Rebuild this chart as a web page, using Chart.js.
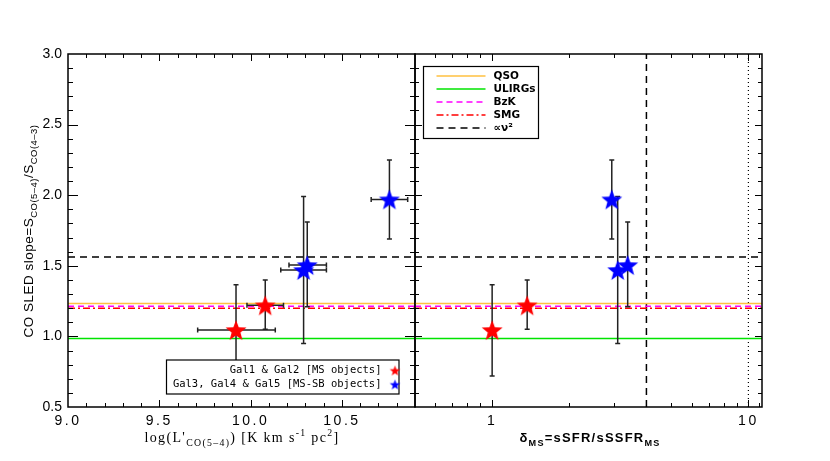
<!DOCTYPE html>
<html>
<head>
<meta charset="utf-8">
<script src="https://cdn.jsdelivr.net/npm/chart.js@4.4.0/dist/chart.umd.min.js"></script>
<style>
    html, body { margin: 0; padding: 0; background: #fff; }
    #wrap { position: relative; width: 830px; height: 461px; }
    #wrap canvas { position: absolute; left: 0; top: 0; }
</style>
</head>
<body>
<div id="wrap">
    <canvas id="leftChart" width="830" height="461"></canvas>
    <canvas id="rightChart" width="830" height="461"></canvas>
</div>
<script>
var galNames = ['Gal1', 'Gal2', 'Gal3', 'Gal4', 'Gal5'];
var galLogL = [9.92, 10.08, 10.29, 10.31, 10.76];
var galLogLErrLo = [0.21, 0.10, 0.125, 0.10, 0.10];
var galLogLErrHi = [0.215, 0.10, 0.125, 0.105, 0.10];
var galDelta = [1.00, 1.37, 3.09, 3.38, 2.93];
var galSlope = [1.045, 1.22, 1.47, 1.505, 1.97];
var galSlopeErrLo = [0.325, 0.17, 0.52, 0.295, 0.28];
var galSlopeErrHi = [0.32, 0.18, 0.52, 0.305, 0.28];
var msGroup = [0, 1];
var sbGroup = [2, 3, 4];
var groupLabels = ['Gal1 & Gal2 [MS objects]', 'Gal3, Gal4 & Gal5 [MS-SB objects]'];

// reference CO SLED slopes (horizontal lines)
var refNames = ['QSO', 'ULIRGs', 'BzK', 'SMG', '\u221D\u03BD\u00B2'];
var refSlope = [1.233, 0.986, 1.214, 1.20, 1.563];

// vertical markers in the right panel
var deltaDashed = 4;
var deltaDotted = 10;

// axis ranges and ticks
var xRangeLeft = [9.0, 10.9];
var xRangeRight = [0.5, 11.3];
var yRange = [0.5, 3.0];
var xMajorLeft = [9.0, 9.5, 10.0, 10.5];
var xMajorRight = [1, 10];
var xTicksRight = [0.5, 0.6, 0.7, 0.8, 0.9, 1, 2, 3, 4, 5, 6, 7, 8, 9, 10, 11];
var yMajor = [0.5, 1.0, 1.5, 2.0, 2.5, 3.0];

// styles
var refColors = ['#ffc040', '#00e400', '#ff00ff', '#ff0000', '#000000'];
var refDash = [[], [], [6, 4], [7, 3, 2, 3], [7, 5]];
var msColor = '#ff0000';
var sbColor = '#0000ff';

function isMajor(v, list) {
    return list.some(function (m) { return Math.abs(m - v) < 1e-6; });
}

// filled five point star used as marker
function makeStar(color, r) {
    var c = document.createElement('canvas');
    var s = Math.ceil(r * 2 + 2);
    c.width = s;
    c.height = s;
    var g = c.getContext('2d');
    g.fillStyle = color;
    g.beginPath();
    for (var k = 0; k < 10; k++) {
        var rr = k % 2 === 0 ? r : r * 0.42;
        var a = -Math.PI / 2 + k * Math.PI / 5;
        g.lineTo(s / 2 + rr * Math.cos(a), s / 2 + 1 + rr * Math.sin(a));
    }
    g.closePath();
    g.fill();
    return c;
}

// text with sub / superscripts: parts = [[text, 0 normal | 1 sub | 2 sup], ...]
function drawRich(ctx, parts, x, y, size, family, weight, width) {
    function font(p) {
        var fs = p[1] === 0 ? size : size * 0.7;
        return weight + ' ' + fs + 'px ' + family;
    }
    var hasLS = 'letterSpacing' in ctx;
    if (hasLS) ctx.letterSpacing = '0px';
    var total = 0, n = 0;
    parts.forEach(function (p) {
        ctx.font = font(p);
        total += ctx.measureText(p[0]).width;
        n += p[0].length;
    });
    var ls = 0;
    if (width && hasLS) {
        ls = (width - total) / n;
        total = width;
    }
    var cx = x - total / 2;
    ctx.textAlign = 'left';
    ctx.textBaseline = 'alphabetic';
    parts.forEach(function (p) {
        ctx.font = font(p);
        if (hasLS) ctx.letterSpacing = ls + 'px';
        var dy = p[1] === 1 ? size * 0.3 : (p[1] === 2 ? -size * 0.45 : 0);
        ctx.fillText(p[0], cx, y + dy);
        cx += ctx.measureText(p[0]).width;
    });
    if (hasLS) ctx.letterSpacing = '0px';
}

function galSet(label, idx, xs, color, withXErr) {
    return {
        label: label,
        data: idx.map(function (i) { return { x: xs[i], y: galSlope[i] }; }),
        yErr: idx.map(function (i) { return [galSlopeErrLo[i], galSlopeErrHi[i]]; }),
        xErr: withXErr ? idx.map(function (i) { return [galLogLErrLo[i], galLogLErrHi[i]]; }) : null,
        pointStyle: makeStar(color, 11),
        pointRadius: 11,
        showLine: false,
        order: 0
    };
}

function refSets(xr) {
    return refNames.map(function (name, k) {
        return {
            label: name,
            data: [{ x: xr[0], y: refSlope[k] }, { x: xr[1], y: refSlope[k] }],
            showLine: true,
            borderColor: refColors[k],
            borderDash: refDash[k],
            borderWidth: 1.5,
            pointRadius: 0,
            order: 1
        };
    });
}

// error bars, drawn just before each galaxy dataset
var errorBars = {
    id: 'errorBars',
    beforeDatasetDraw: function (chart, args) {
        var ds = chart.data.datasets[args.index];
        if (!ds.yErr) return;
        var ctx = chart.ctx, xs = chart.scales.x, ys = chart.scales.y;
        ctx.save();
        ctx.strokeStyle = '#222';
        ctx.lineWidth = 1.5;
        ds.data.forEach(function (p, i) {
            var px = xs.getPixelForValue(p.x), py = ys.getPixelForValue(p.y);
            var y0 = ys.getPixelForValue(p.y - ds.yErr[i][0]);
            var y1 = ys.getPixelForValue(p.y + ds.yErr[i][1]);
            ctx.beginPath();
            ctx.moveTo(px, y0); ctx.lineTo(px, y1);
            ctx.moveTo(px - 2.5, y0); ctx.lineTo(px + 2.5, y0);
            ctx.moveTo(px - 2.5, y1); ctx.lineTo(px + 2.5, y1);
            if (ds.xErr) {
                var x0 = xs.getPixelForValue(p.x - ds.xErr[i][0]);
                var x1 = xs.getPixelForValue(p.x + ds.xErr[i][1]);
                ctx.moveTo(x0, py); ctx.lineTo(x1, py);
                ctx.moveTo(x0, py - 2.5); ctx.lineTo(x0, py + 2.5);
                ctx.moveTo(x1, py - 2.5); ctx.lineTo(x1, py + 2.5);
            }
            ctx.stroke();
        });
        ctx.restore();
    }
};

// IDL style box with inward ticks on all four sides
var frame = {
    id: 'frame',
    afterDraw: function (chart, args, opts) {
        var a = chart.chartArea, ctx = chart.ctx;
        var xs = chart.scales.x, ys = chart.scales.y;
        ctx.save();
        ctx.strokeStyle = '#000';
        ctx.lineWidth = 1;
        ctx.beginPath();
        xs.ticks.forEach(function (t) {
            var px = Math.round(xs.getPixelForValue(t.value)) + 0.5;
            if (px < a.left + 1 || px > a.right - 1) return;
            var len = isMajor(t.value, opts.xMajor) ? opts.xLen[0] : opts.xLen[1];
            ctx.moveTo(px, a.bottom); ctx.lineTo(px, a.bottom - len);
            ctx.moveTo(px, a.top); ctx.lineTo(px, a.top + len);
        });
        ys.ticks.forEach(function (t) {
            var py = Math.round(ys.getPixelForValue(t.value)) + 0.5;
            if (py < a.top + 1 || py > a.bottom - 1) return;
            var len = isMajor(t.value, yMajor) ? opts.yLen[0] : opts.yLen[1];
            ctx.moveTo(a.left, py); ctx.lineTo(a.left + len, py);
            ctx.moveTo(a.right, py); ctx.lineTo(a.right - len, py);
        });
        ctx.stroke();
        ctx.lineWidth = 1.5;
        ctx.strokeRect(a.left, a.top, a.right - a.left, a.bottom - a.top);
        ctx.restore();
    }
};

// wider spacing for the x tick numbers
function spaceLabels(s) {
    s.height = 54;
    if (s._spaced) return;
    var orig = s.drawLabels.bind(s);
    s.drawLabels = function (area) {
        this.ctx.save();
        if ('letterSpacing' in this.ctx) this.ctx.letterSpacing = '2.5px';
        orig(area);
        this.ctx.restore();
    };
    s._spaced = true;
}

var tickFont = { family: 'Liberation Sans', size: 14 };

// ---------------------------------------------------------------- left panel
var leftText = {
    id: 'leftText',
    afterDraw: function (chart) {
        var ctx = chart.ctx;
        ctx.save();
        ctx.fillStyle = '#000';
        drawRich(ctx, [["log(L'", 0], ['CO(5\u20134)', 1], [') [K km s', 0], ['-1', 2], [' pc', 0], ['2', 2], [']', 0]],
            242, 442, 14, 'Liberation Serif', 'normal', 195);
        ctx.translate(33, 231);
        ctx.rotate(-Math.PI / 2);
        drawRich(ctx, [['CO SLED slope=S', 0], ['CO(5\u20134)', 1], ['/S', 0], ['CO(4\u20133)', 1]],
            0, 0, 13.5, 'Liberation Sans', 'normal', 213);
        ctx.restore();

        // legend box for the two galaxy groups
        var bx = 166.5, by = 360, bw = 232.5, bh = 34;
        ctx.save();
        ctx.fillStyle = '#fff';
        ctx.fillRect(bx, by, bw, bh);
        ctx.strokeStyle = '#000';
        ctx.lineWidth = 1.2;
        ctx.strokeRect(bx, by, bw, bh);
        ctx.fillStyle = '#000';
        ctx.font = '10.5px "DejaVu Sans Mono"';
        ctx.textAlign = 'right';
        ctx.textBaseline = 'middle';
        [msColor, sbColor].forEach(function (c, k) {
            var ly = by + 10 + k * 14;
            ctx.fillText(groupLabels[k], bx + 215, ly);
            var st = makeStar(c, 5.5);
            ctx.drawImage(st, bx + 228.5 - st.width / 2, ly - st.height / 2);
        });
        ctx.restore();
    }
};

new Chart(document.getElementById('leftChart'), {
    type: 'scatter',
    data: {
        datasets: [
            galSet(groupLabels[0], msGroup, galLogL, msColor, true),
            galSet(groupLabels[1], sbGroup, galLogL, sbColor, true)
        ].concat(refSets(xRangeLeft))
    },
    options: {
        responsive: false,
        animation: false,
        events: [],
        devicePixelRatio: 1,
        layout: { padding: { top: 54, right: 415, left: 0, bottom: 0 } },
        scales: {
            x: {
                type: 'linear',
                min: xRangeLeft[0],
                max: xRangeLeft[1],
                grid: { display: false, drawTicks: false },
                border: { display: false },
                afterFit: spaceLabels,
                ticks: {
                    stepSize: 0.1,
                    autoSkip: false,
                    maxRotation: 0,
                    padding: 6,
                    color: '#000',
                    font: tickFont,
                    callback: function (v) { return isMajor(v, xMajorLeft) ? v.toFixed(1) : ''; }
                }
            },
            y: {
                min: yRange[0],
                max: yRange[1],
                grid: { display: false, drawTicks: false },
                border: { display: false },
                afterFit: function (s) { s.width = 68; },
                ticks: {
                    stepSize: 0.1,
                    autoSkip: false,
                    padding: 6,
                    color: '#000',
                    font: tickFont,
                    callback: function (v) { return isMajor(v, yMajor) ? v.toFixed(1) : ''; }
                }
            }
        },
        plugins: {
            legend: { display: false },
            tooltip: { enabled: false },
            frame: { xMajor: xMajorLeft, xLen: [7, 4], yLen: [10, 5] }
        }
    },
    plugins: [errorBars, frame, leftText]
});

// ---------------------------------------------------------------- right panel
var rightText = {
    id: 'rightText',
    afterDraw: function (chart) {
        var ctx = chart.ctx;
        ctx.save();
        ctx.fillStyle = '#000';
        drawRich(ctx, [['\u03B4', 0], ['MS', 1], ['=sSFR/sSSFR', 0], ['MS', 1]],
            590, 442, 13, 'Liberation Sans', 'bold', 141);

        // legend of reference slopes
        var bx = 423.5, by = 66.5, bw = 115, bh = 72;
        ctx.fillStyle = '#fff';
        ctx.fillRect(bx, by, bw, bh);
        ctx.strokeStyle = '#000';
        ctx.lineWidth = 1.2;
        ctx.strokeRect(bx, by, bw, bh);
        ctx.font = 'bold 10.5px "DejaVu Sans"';
        ctx.textAlign = 'left';
        ctx.textBaseline = 'middle';
        refNames.forEach(function (name, k) {
            var ly = by + 9.5 + k * 13;
            ctx.strokeStyle = refColors[k];
            ctx.lineWidth = 1.5;
            ctx.setLineDash(refDash[k]);
            ctx.beginPath();
            ctx.moveTo(bx + 13, ly);
            ctx.lineTo(bx + 62, ly);
            ctx.stroke();
            ctx.setLineDash([]);
            ctx.fillStyle = '#000';
            ctx.fillText(name, bx + 70, ly);
        });
        ctx.restore();
    }
};

var verticalSets = [
    {
        label: 'dashed',
        data: [{ x: deltaDashed, y: yRange[0] }, { x: deltaDashed, y: yRange[1] }],
        showLine: true, borderColor: '#000', borderDash: [7, 5], borderWidth: 1.5, pointRadius: 0, order: 1
    },
    {
        label: 'dotted',
        data: [{ x: deltaDotted, y: yRange[0] }, { x: deltaDotted, y: yRange[1] }],
        showLine: true, borderColor: '#000', borderDash: [1, 3], borderWidth: 1.2, pointRadius: 0, order: 1
    }
];

new Chart(document.getElementById('rightChart'), {
    type: 'scatter',
    data: {
        datasets: [
            galSet(groupLabels[0], msGroup, galDelta, msColor, false),
            galSet(groupLabels[1], sbGroup, galDelta, sbColor, false)
        ].concat(refSets(xRangeRight), verticalSets)
    },
    options: {
        responsive: false,
        animation: false,
        events: [],
        devicePixelRatio: 1,
        layout: { padding: { top: 54, right: 68, left: 0, bottom: 0 } },
        scales: {
            x: {
                type: 'logarithmic',
                min: xRangeRight[0],
                max: xRangeRight[1],
                grid: { display: false, drawTicks: false },
                border: { display: false },
                afterFit: spaceLabels,
                afterBuildTicks: function (s) {
                    s.ticks = xTicksRight.map(function (v) { return { value: v }; });
                },
                ticks: {
                    autoSkip: false,
                    maxRotation: 0,
                    padding: 6,
                    color: '#000',
                    font: tickFont,
                    callback: function (v) { return isMajor(v, xMajorRight) ? String(v) : ''; }
                }
            },
            y: {
                min: yRange[0],
                max: yRange[1],
                grid: { display: false, drawTicks: false },
                border: { display: false },
                afterFit: function (s) { s.width = 415; },
                ticks: { stepSize: 0.1, display: false }
            }
        },
        plugins: {
            legend: { display: false },
            tooltip: { enabled: false },
            frame: { xMajor: xMajorRight, xLen: [7, 4], yLen: [7, 4] }
        }
    },
    plugins: [errorBars, frame, rightText]
});
</script>
</body>
</html>
